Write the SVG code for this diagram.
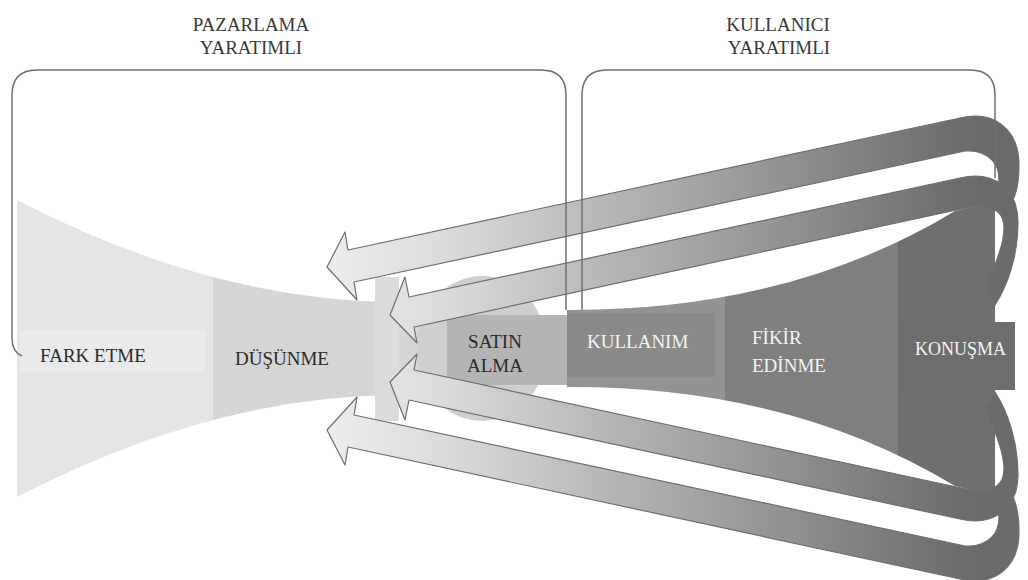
<svg xmlns="http://www.w3.org/2000/svg" xmlns:xlink="http://www.w3.org/1999/xlink" width="1028" height="580" viewBox="0 0 1028 580">
  <style>
    .t { font-family: "Liberation Serif", "DejaVu Serif", serif; font-size: 19px; }
    .dark { fill: #2a2a2a; }
    .light { fill: #f4f4f4; }
    .hdr { fill: #3a3a3a; text-anchor: middle; }
    .box { fill: none; stroke: #707070; stroke-width: 1.5; }
    .band { fill: url(#bandGrad); stroke: #6e6e6e; stroke-width: 1.2; stroke-linejoin: round; }
  </style>
  <defs>
    <linearGradient id="bandGrad" gradientUnits="userSpaceOnUse" x1="330" y1="0" x2="980" y2="0">
      <stop offset="0" stop-color="#ececec"/>
      <stop offset="0.185" stop-color="#dadada"/>
      <stop offset="0.415" stop-color="#b8b8b8"/>
      <stop offset="0.723" stop-color="#8e8e8e"/>
      <stop offset="0.969" stop-color="#6c6c6c"/>
      <stop offset="1" stop-color="#6a6a6a"/>
    </linearGradient>
    <clipPath id="funnelL">
      <path d="M17,200 Q210,300 393,302 L420,302 L420,395 L393,395 Q210,397 17,497 Z"/>
    </clipPath>
    <clipPath id="funnelR">
      <path d="M567,310 Q790,311 955,211 L1000,200 L1000,497 L955,486 Q790,386 567,387 Z"/>
    </clipPath>
  </defs>

  <rect width="1028" height="580" fill="#ffffff"/>

  <g id="header-pazarlama">
    <text class="t hdr" x="251" y="31">PAZARLAMA</text>
    <text class="t hdr" x="251" y="54">YARATIMLI</text>
  </g>
  <g id="header-kullanici">
    <text class="t hdr" x="778" y="31">KULLANICI</text>
    <text class="t hdr" x="779" y="54">YARATIMLI</text>
  </g>

  <g id="fark-etme">
    <rect x="0" y="190" width="213" height="320" fill="#e4e4e4" clip-path="url(#funnelL)"/>
    <rect x="20" y="330" width="185" height="42" fill="#eaeaea"/>
    <text class="t dark" x="40" y="362">FARK ETME</text>
  </g>

  <g id="dusunme">
    <rect x="213" y="190" width="210" height="320" fill="#d6d6d6" clip-path="url(#funnelL)"/>
    <rect x="375" y="277" width="24" height="144" fill="#dcdcdc"/>
    <text class="t dark" x="235" y="365">DÜŞÜNME</text>
  </g>

  <g id="satin-alma">
    <ellipse cx="482" cy="348.5" rx="65" ry="72.5" fill="#cfcfcf"/>
    <rect x="447" y="315" width="121" height="70" fill="#b4b4b4"/>
    <text class="t dark" x="495" y="348" text-anchor="middle">SATIN</text>
    <text class="t dark" x="495" y="372" text-anchor="middle">ALMA</text>
  </g>

  <g id="kullanim">
    <rect x="567" y="190" width="158" height="320" fill="#939393" clip-path="url(#funnelR)"/>
    <rect x="567" y="313" width="148" height="64" fill="#8a8a8a"/>
    <text class="t light" x="587" y="348">KULLANIM</text>
  </g>

  <g id="fikir-edinme">
    <rect x="725" y="190" width="173" height="320" fill="#7f7f7f" clip-path="url(#funnelR)"/>
    <text class="t light" x="752" y="344">FİKİR</text>
    <text class="t light" x="752" y="372">EDİNME</text>
  </g>

  <g id="konusma">
    <rect x="898" y="190" width="97" height="320" fill="#6f6f6f" clip-path="url(#funnelR)"/>
    <rect x="898" y="322" width="117" height="68" fill="#6d6d6d"/>
    <text class="t light" x="915" y="355" style="font-size:18px">KONUŞMA</text>
  </g>

  <g id="connectors">
    <path id="band1" class="band" d="M348,250 L960,118 C995,110 1019,130 1019,165 C1019,185 1015,198 1010,205 L997,195 C1000,182 1000,168 992,160 C985,153 976,150 965,151 L354,282 L357,300 L327,267 L345,232 Z"/>
    <path id="band4" class="band" transform="translate(0,697) scale(1,-1)" d="M348,250 L960,118 C995,110 1019,130 1019,165 C1019,185 1015,198 1010,205 L997,195 C1000,182 1000,168 992,160 C985,153 976,150 965,151 L354,282 L357,300 L327,267 L345,232 Z"/>
    <path id="band2" class="band" d="M409,297 L960,178 C995,170 1018,190 1018,222 C1018,255 1008,285 995,305 L985,290 C995,265 1004,245 1004,228 C1004,213 995,206 975,206 L414,327 L417,343 L390,315 L405,277 Z"/>
    <path id="band3" class="band" transform="translate(0,697) scale(1,-1)" d="M409,297 L960,178 C995,170 1018,190 1018,222 C1018,255 1008,285 995,305 L985,290 C995,265 1004,245 1004,228 C1004,213 995,206 975,206 L414,327 L417,343 L390,315 L405,277 Z"/>
  </g>

  <g id="frames">
    <path class="box" d="M22,356 Q12,352 12,338 L12,95 Q12,70 37,70 L541,70 Q566,70 566,95 L566,310"/>
    <path class="box" d="M582,310 L582,95 Q582,70 607,70 L970,70 Q995,70 995,95 L995,178"/>
  </g>
</svg>
